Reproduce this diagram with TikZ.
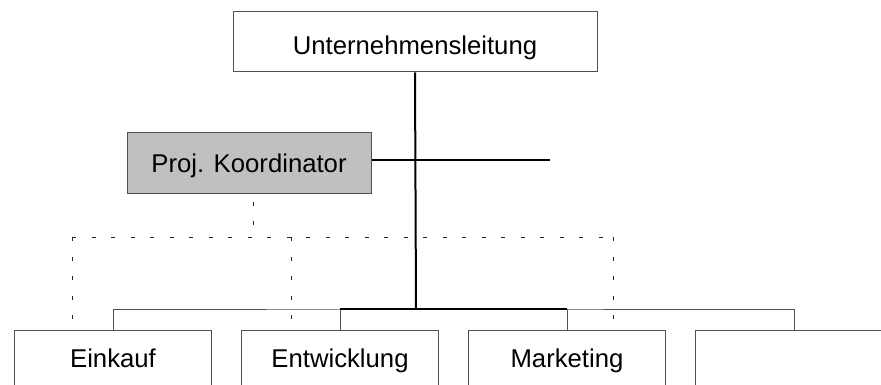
\documentclass[tikz,border=0pt]{standalone}
\usepackage{fontspec}
\setmainfont{Liberation Sans}
\definecolor{fillgray}{HTML}{C0C0C0}
\definecolor{boxline}{HTML}{505050}
\begin{document}
\begin{tikzpicture}[x=1pt,y=-1pt,
  unit/.style={draw=boxline, line width=1pt, inner sep=0pt,
    font=\fontsize{25.7}{30}\selectfont, minimum width=197pt, minimum height=58pt,
    text height=21pt, text depth=5pt},
  trunk/.style={draw=black, line width=2pt},
  bus/.style={draw=black, line width=1.4pt},
  branch/.style={draw=boxline, line width=1pt},
  liaison/.style={draw=black!85, line width=1pt, dash pattern=on 4pt off 15.5pt}]
\clip (0,0) rectangle (881,385);

% management and staff position
\node[unit, minimum width=364pt, minimum height=60pt, text height=31pt] (top) at (415,42) {Unternehmensleitung};
\node[unit, fill=fillgray, minimum width=244pt, minimum height=60pt, text height=23pt] (koord) at (249,163) {Proj. Koordinator};

% departments
\node[unit] (einkauf) at (113,359) {Einkauf};
\node[unit] (entw) at (340,359) {Entwicklung};
\node[unit] (mark) at (567,359) {Marketing};
\node[unit] (leer) at (794,359) {};

% line organisation
\coordinate (busc) at (416,309);
\coordinate (stab) at (550,160);
\draw[trunk] (top.south) -- (busc);
\draw[trunk] (koord.east |- stab) -- (stab);
\draw[branch] (einkauf.north) |- (busc) -| (leer.north);
\draw[branch] (entw.north) -- (entw.north |- busc);
\draw[branch] (mark.north) -- (mark.north |- busc);
\draw[bus] (entw.north |- busc) -- (mark.north |- busc);

% coordination links
\coordinate (kj) at (253,237);
\coordinate (dl) at (72,237);
\coordinate (dm) at (291,237);
\coordinate (dr) at (613,237);
\draw[liaison] (kj |- koord.south) ++(0,8) -- (kj);
\draw[liaison] (dl) -- (dr);
\draw[liaison] (dl) -- ++(0,86);
\draw[liaison] (dm) -- ++(0,86);
\draw[liaison] (dr) -- ++(0,86);
\end{tikzpicture}
\end{document}
